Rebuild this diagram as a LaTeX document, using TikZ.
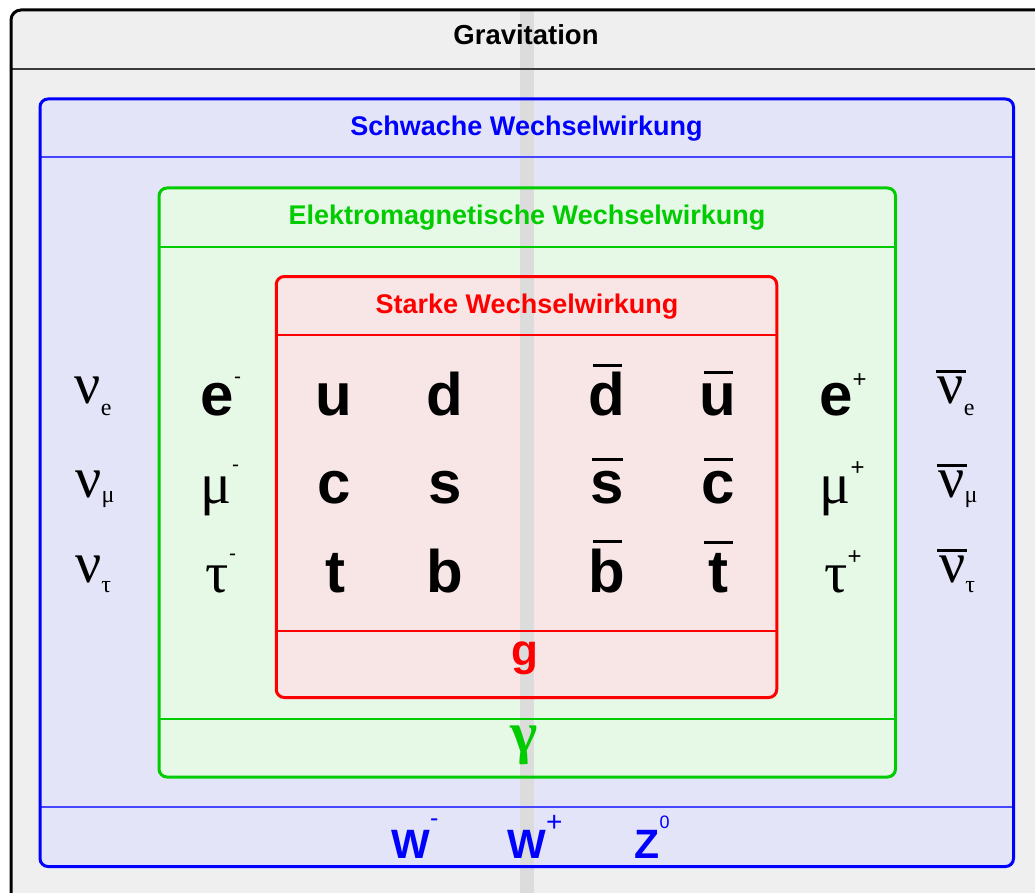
\documentclass[tikz,border=0pt]{standalone}
\usepackage{fontspec}
\setmainfont{Liberation Sans}
\newfontfamily\grkfont{Liberation Serif}

\definecolor{greyfill}{RGB}{239,239,239}
\definecolor{stripc}{RGB}{220,220,220}
\definecolor{weakc}{RGB}{0,0,255}
\definecolor{weakfill}{RGB}{228,228,248}
\definecolor{weakline}{RGB}{70,70,255}
\definecolor{emc}{RGB}{0,204,0}
\definecolor{emfill}{RGB}{230,248,230}
\definecolor{strongc}{RGB}{255,0,0}
\definecolor{strongfill}{RGB}{248,230,230}
\definecolor{gravline}{RGB}{60,60,60}

% small raised / lowered indices
\newcommand\hi[3]{\raisebox{#1}{\rmfamily\mdseries\fontsize{#2}{#2}\selectfont #3}}
\newcommand\lo[2]{\raisebox{-#1}{\fontsize{24}{24}\selectfont #2}}
\newcommand\gk[1]{{\grkfont\mdseries\fontsize{58}{58}\selectfont #1}}
% antiparticle bar: gap, bar width, symbol
\newcommand\ovl[3]{%
  \setbox0\hbox{#3}%
  \vbox{\offinterlineskip
    \hbox to\wd0{\hss\vrule width #2 height 3pt depth 0pt\hss}\kern#1\box0}}

\begin{document}
\begin{tikzpicture}[x=1pt,y=-1pt,
  boxfill/.style={draw=none,inner sep=0pt,outer sep=0pt,rounded corners=8pt},
  frame/.style={line width=3pt,rounded corners=8pt},
  sep/.style={line width=1.2pt},
  hdr/.style={font=\fontsize{27}{27}\selectfont\bfseries,anchor=base,inner sep=0pt},
  big/.style={font=\fontsize{60}{60}\selectfont\bfseries,anchor=base,inner sep=0pt},
  grk/.style={font=\grkfont\fontsize{58}{58}\selectfont,anchor=base,inner sep=0pt},
  wz/.style={font=\fontsize{41}{41}\selectfont\bfseries,anchor=base,inner sep=0pt,text=weakc}]
\useasboundingbox (0,0) rectangle (1035,893);
\clip (0,0) rectangle (1035,893);
\fill[white] (0,0) rectangle (1035,893);

% box fills
\node[boxfill,fill=greyfill,rounded corners=10pt,minimum width=1060pt,minimum height=892pt] (grav) at (541,456) {};
\node[boxfill,fill=weakfill,minimum width=973.5pt,minimum height=767.5pt] (weak) at (526.75,482.75) {};
\node[boxfill,fill=emfill,minimum width=736.5pt,minimum height=589pt] (em) at (527.25,482.5) {};
\node[boxfill,fill=strongfill,minimum width=500.5pt,minimum height=421pt] (strong) at (526.5,487) {};

% vertical strip
\fill[stripc] (520,11.5) rectangle (534,893);

% separator lines
\draw[sep,gravline] (grav.west |- 0,69) -- (grav.east |- 0,69);
\draw[sep,weakline] (weak.west |- 0,157) -- (weak.east |- 0,157);
\draw[sep,weakline] (weak.west |- 0,807) -- (weak.east |- 0,807);
\draw[sep,emc] (em.west |- 0,247) -- (em.east |- 0,247);
\draw[sep,emc] (em.west |- 0,719) -- (em.east |- 0,719);
\draw[sep,strongc] (strong.west |- 0,335) -- (strong.east |- 0,335);
\draw[sep,strongc] (strong.west |- 0,631) -- (strong.east |- 0,631);

% frames
\draw[frame,black,rounded corners=10pt] (grav.north west) rectangle (grav.south east);
\draw[frame,weakc] (weak.north west) rectangle (weak.south east);
\draw[frame,emc] (em.north west) rectangle (em.south east);
\draw[frame,strongc] (strong.north west) rectangle (strong.south east);

% headings
\node[hdr,font=\fontsize{27.5}{27.5}\selectfont\bfseries] (tgrav) at (526,45) {Gravitation};
\node[hdr,text=weakc] (tweak) at (526.5,135.5) {Schwache Wechselwirkung};
\node[hdr,text=emc] (tem) at (527,224.5) {Elektromagnetische Wechselwirkung};
\node[hdr,text=strongc] (tstrong) at (527,313) {Starke Wechselwirkung};

% neutrinos
\node[grk] (nue) at (93,403) {ν\lo{12pt}{e}};
\node[grk] (numu) at (95,497) {ν\lo{5pt}{μ}};
\node[grk] (nutau) at (93,582) {ν\lo{10pt}{τ}};
\node[grk] (anue) at (956,403) {\ovl{3pt}{30pt}{ν}\lo{12pt}{e}};
\node[grk] (anumu) at (958,497) {\ovl{3pt}{30pt}{ν}\lo{5pt}{μ}};
\node[grk] (anutau) at (957,582) {\ovl{3pt}{30pt}{ν}\lo{10pt}{τ}};

% charged leptons
\node[big] (el) at (221,415) {e\hi{32pt}{21}{-}};
\node[big] (mu) at (220,503) {\gk{μ}\hi{32pt}{21}{-}};
\node[big] (tau) at (221,592) {\gk{τ}\hi{32pt}{21}{-}};
\node[big] (pos) at (843,415) {e\hi{28pt}{24}{+}};
\node[big] (amu) at (842,503) {\gk{μ}\hi{28pt}{24}{+}};
\node[big] (atau) at (843,592) {\gk{τ}\hi{28pt}{24}{+}};

% quarks
\node[big] (u) at (334,415) {u};
\node[big] (d) at (445,415) {d};
\node[big] (c) at (334,503) {c};
\node[big] (s) at (445,503) {s};
\node[big] (t) at (335,592) {t};
\node[big] (b) at (445,592) {b};
\node[big] (ad) at (607,415) {\ovl{5pt}{29pt}{d}};
\node[big] (au) at (718,415) {\ovl{9pt}{29pt}{u}};
\node[big] (as) at (607,503) {\ovl{10pt}{31pt}{s}};
\node[big] (ac) at (718,503) {\ovl{10pt}{29pt}{c}};
\node[big] (ab) at (607,592) {\ovl{6pt}{29pt}{b}};
\node[big] (at) at (718.5,592) {\ovl{9pt}{29pt}{t}};

% gauge bosons
\node[big,font=\fontsize{44}{44}\selectfont\bfseries,text=strongc] (gl) at (524.5,665) {g};
\node[grk,font=\grkfont\bfseries\fontsize{58}{58}\selectfont,text=emc] (ph) at (524,752) {γ};
\node[wz] (wm) at (415,858) {W\hi{32pt}{25}{-}};
\node[wz] (wp) at (535,858) {W\hi{27pt}{28}{+}};
\node[wz] (z) at (652,858) {Z\hi{30pt}{18}{0}};
\end{tikzpicture}
\end{document}
